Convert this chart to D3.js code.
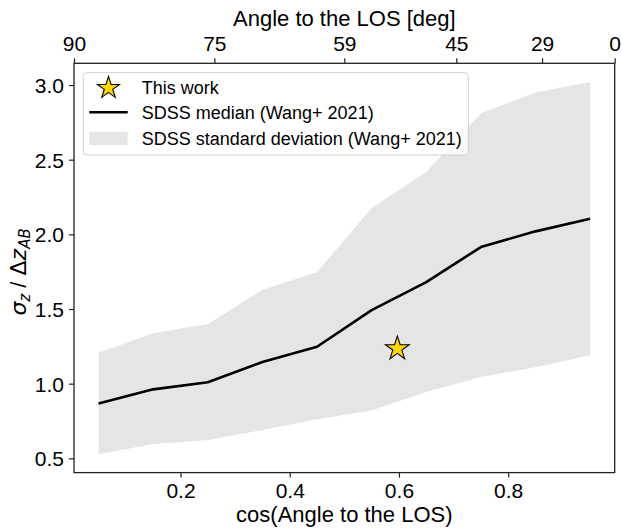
<!DOCTYPE html>
<html><head><meta charset="utf-8">
<script src="https://cdn.jsdelivr.net/npm/d3@7"></script>
<style>body{margin:0;background:#fff} text{font-family:"Liberation Sans",Arial,sans-serif;fill:#000}</style>
</head><body><svg id="c" width="622" height="528"></svg>
<script>
const cosAngle   = [0.05, 0.15, 0.25, 0.35, 0.45, 0.55, 0.65, 0.75, 0.85, 0.95];
const medianVals = [0.868, 0.962, 1.009, 1.145, 1.247, 1.493, 1.680, 1.915, 2.020, 2.105];
const upperVals  = [1.207, 1.337, 1.400, 1.627, 1.748, 2.176, 2.417, 2.810, 2.950, 3.020];
const lowerVals  = [0.527, 0.596, 0.623, 0.690, 0.761, 0.820, 0.944, 1.045, 1.110, 1.190];
const thisWorkX = [0.597];
const thisWorkY = [1.235];
const xTicks = [0.2, 0.4, 0.6, 0.8];
const yTicks = [0.5, 1.0, 1.5, 2.0, 2.5, 3.0];
const topTickPos = [0.005, 0.262, 0.5, 0.705, 0.862, 0.995];
const topTickLabels = ["90", "75", "59", "45", "29", "0"];

const svg = d3.select("#c");
const L = 74, R = 614.7, T = 63.3, B = 472.6;
const x = d3.scaleLinear().domain([0.005, 0.995]).range([L, R]);
const y = d3.scaleLinear().domain([0.4045, 3.1455]).range([B, T]);

const band = cosAngle.map((c, i) => ({c, lo: lowerVals[i], hi: upperVals[i], m: medianVals[i]}));

svg.append("path").datum(band)
  .attr("fill", "#e5e5e5")
  .attr("d", d3.area().x(d => x(d.c)).y0(d => y(d.lo)).y1(d => y(d.hi)));

svg.append("path").datum(band)
  .attr("fill", "none").attr("stroke", "#000").attr("stroke-width", 2.6)
  .attr("stroke-linejoin", "round")
  .attr("d", d3.line().x(d => x(d.c)).y(d => y(d.m)));

const star = d3.symbol().type(d3.symbolStar).size(175);
svg.selectAll(".pt").data(thisWorkX.map((v, i) => ({x: v, y: thisWorkY[i]})))
  .enter().append("path")
  .attr("transform", d => `translate(${x(d.x)},${y(d.y)})`)
  .attr("d", star).attr("fill", "#ffd700").attr("stroke", "#000").attr("stroke-width", 1.1);

// frame
svg.append("rect").attr("x", L).attr("y", T).attr("width", R - L).attr("height", B - T)
  .attr("fill", "none").attr("stroke", "#222").attr("stroke-width", 1.3);

function styleAxis(g, fs) {
  g.select(".domain").remove();
  g.selectAll(".tick line").attr("stroke", "#222").attr("stroke-width", 1.2);
  g.selectAll(".tick text").attr("font-size", fs).attr("font-family", '"Liberation Sans",Arial,sans-serif').attr("fill", "#000");
}
const gx = svg.append("g").attr("transform", `translate(0,${B})`)
  .call(d3.axisBottom(x).tickValues(xTicks).tickFormat(d3.format(".1f")).tickSize(5).tickPadding(5));
styleAxis(gx, 21);
const gy = svg.append("g").attr("transform", `translate(${L},0)`)
  .call(d3.axisLeft(y).tickValues(yTicks).tickFormat(d3.format(".1f")).tickSize(5).tickPadding(5));
styleAxis(gy, 21);
gy.selectAll(".tick text").attr("dy", "0.36em");
const gt = svg.append("g").attr("transform", `translate(0,${T})`)
  .call(d3.axisTop(x).tickValues(topTickPos).tickFormat((d, i) => topTickLabels[i]).tickSize(5).tickPadding(7));
styleAxis(gt, 21);

// axis labels
svg.append("text").attr("x", (L + R) / 2).attr("y", 522).attr("text-anchor", "middle")
  .attr("font-size", 22).text("cos(Angle to the LOS)");
svg.append("text").attr("x", (L + R) / 2).attr("y", 26).attr("text-anchor", "middle")
  .attr("font-size", 22).text("Angle to the LOS [deg]");

const yl = svg.append("text").attr("transform", `translate(26,${(T + B) / 2 + 4}) rotate(-90)`)
  .attr("text-anchor", "middle").attr("font-size", 22);
const mf = '"DejaVu Sans",sans-serif';
yl.append("tspan").attr("font-family", mf).attr("font-style", "italic").text("σ");
yl.append("tspan").attr("font-family", mf).attr("font-style", "italic").attr("font-size", 15).attr("dy", 4).text("z");
yl.append("tspan").attr("dy", -4).text(" / ");
yl.append("tspan").attr("font-family", mf).text("Δ");
yl.append("tspan").attr("font-family", mf).attr("font-style", "italic").text("z");
yl.append("tspan").attr("font-family", mf).attr("font-style", "italic").attr("font-size", 15).attr("dy", 4).text("AB");

// legend
const lg = svg.append("g");
lg.append("rect").attr("x", 83.3).attr("y", 72.7).attr("width", 385).attr("height", 82.3)
  .attr("rx", 3.5).attr("fill", "#fff").attr("fill-opacity", 0.8).attr("stroke", "#d0d0d0").attr("stroke-width", 1);
lg.append("path").attr("transform", "translate(108.5,88)").attr("d", d3.symbol().type(d3.symbolStar).size(150))
  .attr("fill", "#ffd700").attr("stroke", "#000").attr("stroke-width", 1.1);
lg.append("line").attr("x1", 89.3).attr("x2", 127.7).attr("y1", 112.3).attr("y2", 112.3)
  .attr("stroke", "#000").attr("stroke-width", 2.6);
lg.append("rect").attr("x", 89.3).attr("y", 131.7).attr("width", 38.4).attr("height", 13.3).attr("fill", "#e5e5e5");
const legendLabels = ["This work", "SDSS median (Wang+ 2021)", "SDSS standard deviation (Wang+ 2021)"];
const rowY = [87.3, 112.3, 138.3];
legendLabels.forEach((t, i) => {
  lg.append("text").attr("x", 141.7).attr("y", rowY[i]).attr("dy", "0.36em").attr("font-size", 18).text(t);
});
</script></body></html>
